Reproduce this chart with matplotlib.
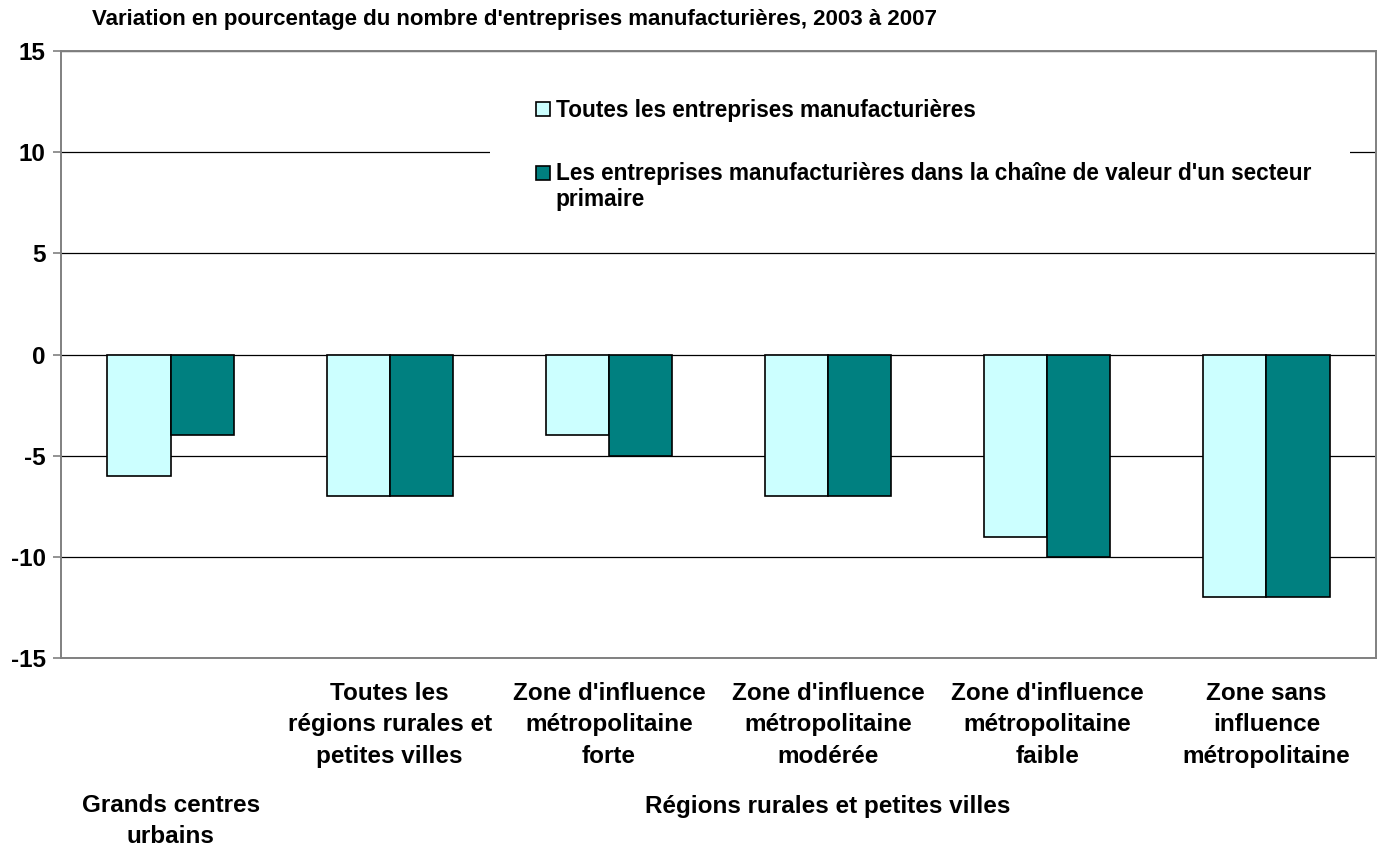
import matplotlib
matplotlib.use("Agg")
import matplotlib.pyplot as plt
from matplotlib.patches import Rectangle
from matplotlib.legend_handler import HandlerPatch
import numpy as np

plt.rcParams['font.family'] = ["Liberation Sans", "DejaVu Sans"]
plt.rcParams['font.weight'] = 'bold'
plt.rcParams['axes.unicode_minus'] = False

categories = ["", "Toutes les\nrégions rurales et\npetites villes",
              "Zone d'influence\nmétropolitaine\nforte",
              "Zone d'influence\nmétropolitaine\nmodérée",
              "Zone d'influence\nmétropolitaine\nfaible",
              "Zone sans\ninfluence\nmétropolitaine"]
all_firms = [-6, -7, -4, -7, -9, -12]
primary_chain = [-4, -7, -5, -7, -10, -12]
series_names = ["Toutes les entreprises manufacturières",
                "Les entreprises manufacturières dans la chaîne de valeur d'un secteur\nprimaire"]
title = "Variation en pourcentage du nombre d'entreprises manufacturières, 2003 à 2007"
group_labels = ["Grands centres\nurbains", "Régions rurales et petites villes"]

fs = 17.5
W, H = 1379, 848
fig = plt.figure(figsize=(W/100, H/100), dpi=100)
ax = fig.add_axes([61/W, 1-658/H, (1376-61)/W, (658-51)/H])

x = np.arange(len(categories))
w = 0.288
b1 = ax.bar(x - w/2, all_firms, w, color='#CCFFFF', edgecolor='black', lw=1.2,
            label=series_names[0], zorder=3)
b2 = ax.bar(x + w/2, primary_chain, w, color='#008080', edgecolor='black', lw=1.2,
            label=series_names[1], zorder=3)

ax.set_xlim(-0.5, len(categories) - 0.5)
ax.set_ylim(-15, 15)
ax.set_yticks(np.arange(-15, 16, 5))
ax.yaxis.grid(True, color='black', lw=0.9, zorder=0)
ax.tick_params(axis='y', labelsize=fs, length=6, width=1.2, color='#808080', pad=5)
ax.tick_params(axis='x', length=0, labelsize=fs, pad=17)
ax.set_xticks(x)
ax.set_xticklabels(categories, linespacing=1.48)
for s in ax.spines.values():
    s.set_color('#808080')
    s.set_linewidth(1.4)

# white block behind the legend (hides the 10 gridline there)
ax.add_patch(Rectangle(((490-61)/1315, 0.68), (1350-490)/1315, 0.3,
                       transform=ax.transAxes, facecolor='white',
                       edgecolor='none', zorder=4))


def square(y0):
    def make(legend, orig_handle, xdescent, ydescent, width, height, fontsize):
        return Rectangle((-xdescent, y0), 10, 10)
    return make


h1, h2 = b1.patches[0], b2.patches[0]
leg = ax.legend(handles=[h1, h2], labels=series_names, loc='upper left',
                bbox_to_anchor=((536-61)/1315, (658-99)/607),
                fontsize=16.3, frameon=False,
                handlelength=0.62, handleheight=0.7, handletextpad=0.25,
                labelspacing=1.75, borderpad=0, borderaxespad=0,
                handler_map={h1: HandlerPatch(patch_func=square(0.5)),
                             h2: HandlerPatch(patch_func=square(11.3))})
leg.set_zorder(5)

fig.text(92/W, 1-19/H, title, fontsize=16, ha='left', va='center')
fig.text((61+1315/12)/W, 1-821/H, group_labels[0], fontsize=fs,
         ha='center', va='center', linespacing=1.48)
fig.text(828/W, 1-806/H, group_labels[1], fontsize=fs,
         ha='center', va='center')

fig.savefig("out.png", dpi=100)
